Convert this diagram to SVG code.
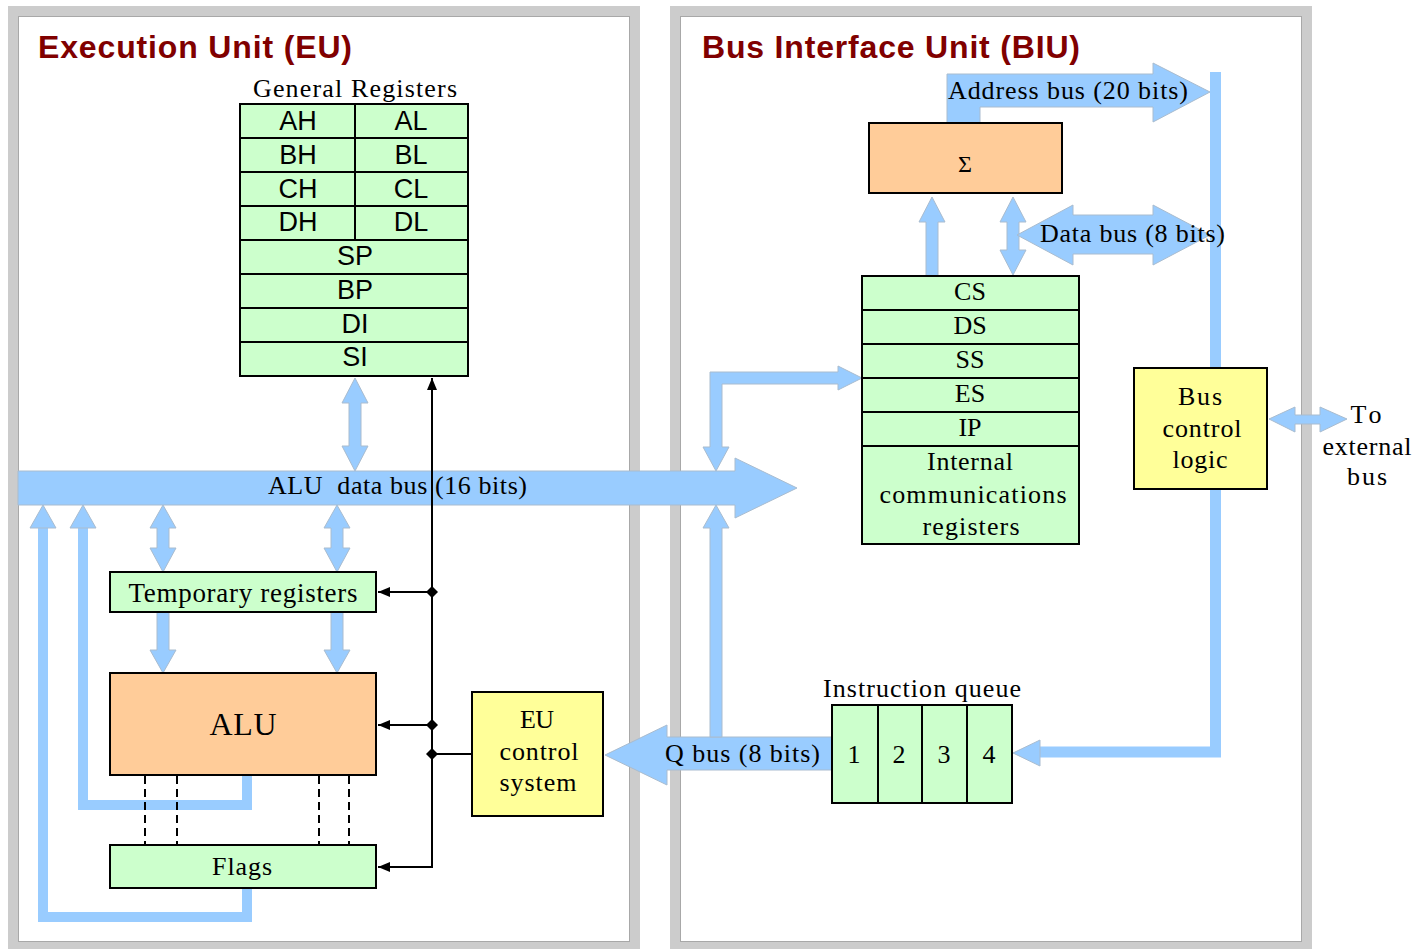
<svg xmlns="http://www.w3.org/2000/svg" width="1415" height="949" viewBox="0 0 1415 949">
<style>
.frame{fill:none;stroke:#cccccc;stroke-width:10}
.frin{fill:none;stroke:#a8a8a8;stroke-width:1}
.title{font-family:"Liberation Sans",Arial,sans-serif;font-weight:bold;font-size:32px;fill:#800000}
.s{font-family:"Liberation Serif","Times New Roman",serif;font-size:26px;fill:#000;text-anchor:middle}
.ss{font-family:"Liberation Sans",Arial,sans-serif;font-size:27px;fill:#000;text-anchor:middle}
.g{fill:#ccffcc;stroke:#000;stroke-width:2}
.o{fill:#ffcc99;stroke:#000;stroke-width:2}
.y{fill:#ffff99;stroke:#000;stroke-width:2}
.ln{stroke:#000;stroke-width:2;fill:none}
.bus{fill:#99ccff;stroke:#a9bccf;stroke-width:1}
.bl{fill:none;stroke:#99ccff;stroke-width:10}
.dash{stroke:#000;stroke-width:2;stroke-dasharray:8 5}
.dot{fill:#000}
</style>
<defs>
<marker id="ah" markerWidth="12" markerHeight="10" refX="12" refY="5" orient="auto" markerUnits="userSpaceOnUse">
<path d="M0,0 L12,5 L0,10 z" fill="#000"/>
</marker>
</defs>
<rect width="1415" height="949" fill="#fff"/>

<g id="eu-panel">
<rect class="frame" x="13" y="11" width="622" height="936"/>
<rect class="frin" x="18.5" y="16.5" width="611" height="925"/>
<text class="title" x="38" y="58" textLength="314">Execution Unit (EU)</text>
</g>
<g id="biu-panel">
<rect class="frame" x="675" y="11" width="632" height="936"/>
<rect class="frin" x="680.5" y="16.5" width="621" height="925"/>
<text class="title" x="702" y="58" textLength="378">Bus Interface Unit (BIU)</text>
</g>

<g id="connectors">
<!-- ALU data bus -->
<polygon class="bus" points="18,471 735,471 735,458 797,488 735,518 735,505 18,505"/>
<!-- registers <-> bus -->
<polygon class="bus" points="355,378 368,403 361,403 361,446 368,446 355,471 342,446 349,446 349,403 342,403"/>
<!-- bus <-> temp regs -->
<polygon class="bus" points="163,505 176,528 169,528 169,548 176,548 163,572 150,548 157,548 157,528 150,528"/>
<polygon class="bus" points="337,505 350,528 343,528 343,548 350,548 337,572 324,548 331,548 331,528 324,528"/>
<!-- temp -> ALU -->
<polygon class="bus" points="157,612 169,612 169,650 176,650 163,673 150,650 157,650"/>
<polygon class="bus" points="331,612 343,612 343,650 350,650 337,673 324,650 331,650"/>
<!-- feedback ALU -> bus -->
<path class="bl" d="M247,776 V805 H83 V527"/>
<polygon class="bus" points="70,528 83,505 96,528"/>
<!-- feedback Flags -> bus -->
<path class="bl" d="M247,889 V917 H43 V527"/>
<polygon class="bus" points="30,528 43,505 56,528"/>
<!-- bus <-> segment registers -->
<polygon class="bus" points="710,447 710,372 838,372 838,366 862,378 838,390 838,384 722,384 722,447 729,447 716,471 703,447"/>
<!-- Q bus -->
<polygon class="bus" points="833,737 667,737 667,725 605,755 667,785 667,770 833,770"/>
<polygon class="bus" points="710,737 710,528 703,528 716,505 729,528 722,528 722,737"/>
<!-- CS -> sigma -->
<polygon class="bus" points="926,276 926,222 919,222 932,197 945,222 938,222 938,276"/>
<polygon class="bus" points="1013,197 1026,222 1019,222 1019,250 1026,250 1013,275 1000,250 1007,250 1007,222 1000,222"/>
<!-- Address bus -->
<polygon class="bus" points="947,123 947,74 1153,74 1153,63 1210,92 1153,122 1153,107 980,107 980,123"/>
<!-- Data bus -->
<polygon class="bus" points="1017,235 1073,205 1073,215 1153,215 1153,205 1210,235 1153,265 1153,254 1073,254 1073,265"/>
<!-- bus control logic <-> instruction queue -->
<path class="bl" d="M1215.5,72 V752 H1039" style="stroke-width:11"/>
<polygon class="bus" points="1040,740 1013,753 1040,766"/>
<!-- to external bus -->
<polygon class="bus" points="1269,419 1295,407 1295,415 1320,415 1320,407 1347,419 1320,432 1320,424 1295,424 1295,432"/>
<!-- dashed ALU-Flags -->
<line class="dash" x1="145" y1="776" x2="145" y2="845"/>
<line class="dash" x1="177" y1="776" x2="177" y2="845"/>
<line class="dash" x1="319" y1="776" x2="319" y2="845"/>
<line class="dash" x1="349" y1="776" x2="349" y2="845"/>
<!-- control lines -->
<line class="ln" x1="432" y1="867" x2="432" y2="378" marker-end="url(#ah)"/>
<line class="ln" x1="432" y1="592" x2="378" y2="592" marker-end="url(#ah)"/>
<line class="ln" x1="432" y1="725" x2="378" y2="725" marker-end="url(#ah)"/>
<line class="ln" x1="432" y1="754" x2="471" y2="754"/>
<line class="ln" x1="433" y1="867" x2="378" y2="867" marker-end="url(#ah)"/>
<polygon class="dot" points="432,586 438,592 432,598 426,592"/>
<polygon class="dot" points="432,719 438,725 432,731 426,725"/>
<polygon class="dot" points="432,748 438,754 432,760 426,754"/>
<!-- bus labels -->
<text class="s" x="268" y="494" style="text-anchor:start" textLength="259" xml:space="preserve">ALU  data bus (16 bits)</text>
<text class="s" x="665" y="762" style="text-anchor:start" textLength="155">Q bus (8 bits)</text>
<text class="s" x="948" y="99" style="text-anchor:start" textLength="240">Address bus (20 bits)</text>
<text class="s" x="1040" y="242" style="text-anchor:start" textLength="185">Data bus (8 bits)</text>
<text class="s" x="1366" y="423" textLength="31">To</text>
<text class="s" x="1367" y="455" textLength="89">external</text>
<text class="s" x="1367" y="485" textLength="40">bus</text>
</g>

<g id="general-registers">
<text class="s" x="355" y="97" textLength="204">General Registers</text>
<rect class="g" x="240" y="104" width="228" height="272"/>
<path class="ln" d="M240,138 H468 M240,172 H468 M240,206 H468 M240,240 H468 M240,274 H468 M240,308 H468 M240,342 H468 M355,104 V240"/>
<text class="ss" x="298" y="130">AH</text><text class="ss" x="411" y="130">AL</text>
<text class="ss" x="298" y="164">BH</text><text class="ss" x="411" y="164">BL</text>
<text class="ss" x="298" y="198">CH</text><text class="ss" x="411" y="198">CL</text>
<text class="ss" x="298" y="231">DH</text><text class="ss" x="411" y="231">DL</text>
<text class="ss" x="355" y="265">SP</text>
<text class="ss" x="355" y="299">BP</text>
<text class="ss" x="355" y="333">DI</text>
<text class="ss" x="355" y="366">SI</text>
</g>

<g id="temporary-registers">
<rect class="g" x="110" y="572" width="266" height="40"/>
<text class="s" x="243" y="602" style="font-size:27px" textLength="229">Temporary registers</text>
</g>

<g id="alu">
<rect class="o" x="110" y="673" width="266" height="102"/>
<text class="s" x="243" y="735" style="font-size:32px" textLength="67">ALU</text>
</g>

<g id="flags">
<rect class="g" x="110" y="845" width="266" height="43"/>
<text class="s" x="242" y="875" textLength="60">Flags</text>
</g>

<g id="eu-control">
<rect class="y" x="472" y="692" width="131" height="124"/>
<text class="s" x="537" y="728" textLength="34">EU</text>
<text class="s" x="539" y="760" textLength="79">control</text>
<text class="s" x="538" y="791" textLength="77">system</text>
</g>

<g id="sigma">
<rect class="o" x="869" y="123" width="193" height="70"/>
<text class="s" x="965" y="172" style="font-size:24px">Σ</text>
</g>

<g id="segment-registers">
<rect class="g" x="862" y="276" width="217" height="268"/>
<path class="ln" d="M862,310 H1079 M862,344 H1079 M862,378 H1079 M862,412 H1079 M862,446 H1079"/>
<text class="s" x="970" y="300">CS</text>
<text class="s" x="970" y="334">DS</text>
<text class="s" x="970" y="368">SS</text>
<text class="s" x="970" y="402">ES</text>
<text class="s" x="970" y="436">IP</text>
<text class="s" x="970" y="470" textLength="86">Internal</text>
<text class="s" x="973" y="503" textLength="187">communications</text>
<text class="s" x="971" y="535" textLength="97">registers</text>
</g>

<g id="bus-control-logic">
<rect class="y" x="1134" y="368" width="133" height="121"/>
<text class="s" x="1200" y="405" textLength="44">Bus</text>
<text class="s" x="1202" y="437" textLength="79">control</text>
<text class="s" x="1200" y="468" textLength="55">logic</text>
</g>

<g id="instruction-queue">
<text class="s" x="823" y="697" style="text-anchor:start" textLength="198">Instruction queue</text>
<rect class="g" x="832" y="705" width="180" height="98"/>
<path class="ln" d="M878,705 V803 M922,705 V803 M967,705 V803"/>
<text class="s" x="854" y="763">1</text>
<text class="s" x="899" y="763">2</text>
<text class="s" x="944" y="763">3</text>
<text class="s" x="989" y="763">4</text>
</g>
</svg>
